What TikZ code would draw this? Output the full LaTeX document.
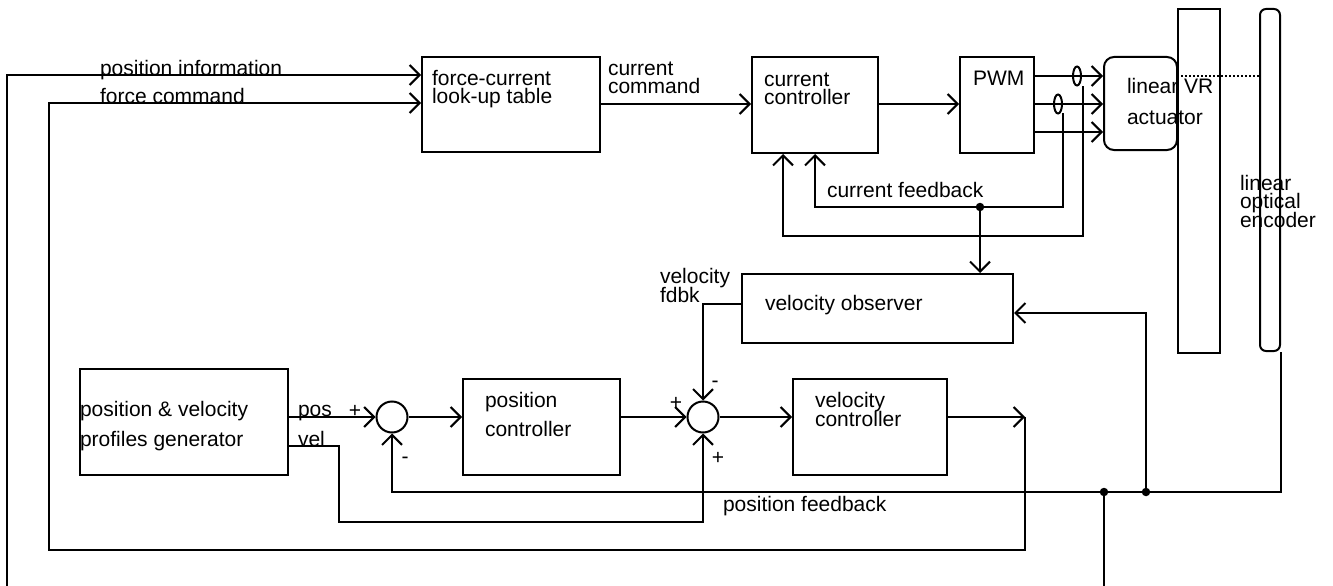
\documentclass[tikz,border=0pt]{standalone}
\usepackage{fontspec}
\setmainfont{Liberation Sans}
\usetikzlibrary{arrows.meta,shapes.geometric,calc}
% stacked lines with a fixed baseline distance; baseline = first line
\newcommand\stacklines[2]{\vtop{\baselineskip=#1\lineskiplimit=-30pt\relax #2}}
\begin{document}
\begin{tikzpicture}[x=1pt, y=-1pt,
  every path/.style={line width=2pt},
  blk/.style={draw, rectangle, anchor=north west, inner sep=0pt},
  sumj/.style={draw, circle, minimum size=31pt, inner sep=0pt},
  sensor/.style={draw, ellipse, minimum width=8pt, minimum height=19pt, inner sep=0pt},
  txt/.style={inner sep=0pt, anchor=base west, font=\fontsize{21}{21}\selectfont},
  sgn/.style={inner sep=0pt, anchor=base, font=\fontsize{21}{21}\selectfont},
  arr/.style={-{Straight Barb[length=10pt,width=20pt]}},
  dot/.style={circle, fill, inner sep=0pt, minimum size=8.5pt}]
\useasboundingbox (0,0) rectangle (1333,586);

% ---- blocks ----
\node[blk, minimum width=178pt, minimum height=95pt] (lut) at (421,56) {};
\node[blk, minimum width=126pt, minimum height=96pt] (cc) at (751,56) {};
\node[blk, minimum width=74pt, minimum height=96pt] (pwm) at (959,56) {};
\node[blk, rounded corners=10pt, minimum width=73pt, minimum height=93pt] (act) at (1103,56) {};
\node[blk, minimum width=42pt, minimum height=344pt] (stator) at (1177,8) {};
\node[blk, rounded corners=6pt, minimum width=20pt, minimum height=342pt] (enc) at (1259,8) {};
\node[blk, minimum width=271pt, minimum height=69pt] (vo) at (741,273) {};
\node[blk, minimum width=208pt, minimum height=106pt] (pg) at (79,368) {};
\node[blk, minimum width=157pt, minimum height=96pt] (pc) at (462,378) {};
\node[blk, minimum width=154pt, minimum height=96pt] (vc) at (792,378) {};
\node[sumj] (c1) at (392,417) {};
\node[sumj] (c2) at (703,417) {};
\node[sensor] (s1) at (1077,76) {};
\node[sensor] (s2) at (1058,104) {};

% ---- texts ----
\node[txt] (tpi) at (99,75) {position information};
\node[txt] (tfc) at (99,103) {force command};
\node[txt] (tlut) at (431,85) {\stacklines{18pt}{\hbox{force-current}\hbox{look-up table}}};
\node[txt] (tcc) at (607,75) {\stacklines{18pt}{\hbox{current}\hbox{command}}};
\node[txt] (tccb) at (763,86) {\stacklines{18pt}{\hbox{current}\hbox{controller}}};
\node[txt] (tpwm) at (972,85) {PWM};
\node[txt] (tact) at (1126,93) {\stacklines{31pt}{\hbox{linear VR}\hbox{actuator}}};
\node[txt] (tenc) at (1239,190) {\stacklines{18.5pt}{\hbox{linear}\hbox{optical}\hbox{encoder}}};
\node[txt] (tcf) at (826,197) {current feedback};
\node[txt] (tvf) at (659,283) {\stacklines{19pt}{\hbox{velocity}\hbox{fdbk}}};
\node[txt] (tvo) at (764,310) {velocity observer};
\node[txt] (tpg) at (79,416) {\stacklines{30pt}{\hbox{position \& velocity}\hbox{profiles generator}}};
\node[txt] (tpos) at (297,416) {pos};
\node[txt] (tvel) at (297,446) {vel};
\node[txt] (tpc) at (484,407) {\stacklines{29pt}{\hbox{position}\hbox{controller}}};
\node[txt] (tvc) at (814,407) {\stacklines{19pt}{\hbox{velocity}\hbox{controller}}};
\node[txt] (tpf) at (722,511) {position feedback};
\node[sgn] (p1) at (355,417) {+};
\node[sgn] (m1) at (405,463) {-};
\node[sgn] (p2) at (676,409) {+};
\node[sgn] (m2) at (715,387) {-};
\node[sgn] (p3) at (718,464) {+};

% ---- junction points and free ends ----
\node[dot] (dcf) at (980,207) {};
\node[dot] (dpf) at (1104,492) {};
\node[dot] (dvo) at (1146,492) {};
\coordinate (vcend) at (1025,417);
\coordinate (s1o) at (1083,86);
\coordinate (s2o) at (1063,113);
\coordinate (botA) at (7,586);
\coordinate (botB) at (1104,586);

% ---- upper signal path ----
\draw[arr] (botA) |- (lut.west |- tpi.base);
\draw[arr] (vcend) -- (1025,550) -| (49,103) -- (lut.west |- tfc.base);
\draw[arr] (lut.east |- 0,104) -- (cc.west |- 0,104);
\draw[arr] (cc.east |- 0,104) -- (pwm.west |- 0,104);
\draw[arr] (pwm.east |- s1) -- (act.west |- s1);
\draw[arr] (pwm.east |- s2) -- (act.west |- s2);
\draw[arr] (pwm.east |- 0,132) -- (act.west |- 0,132);
\draw[dotted, line width=1.5pt] (stator.west |- s1) -- (enc.west |- s1);

% ---- current feedback ----
\draw[arr] (s1o) -- (1083,236) -| ($(cc.south west)+(32,0)$);
\draw[arr] (s2o) -- (1063,207) -| ($(cc.south west)+(64,0)$);
\draw[arr] (dcf.center) -- (vo.north -| dcf);

% ---- lower loops ----
\draw[arr] (pg.east |- c1) -- (c1.west);
\draw[arr] (c1.east) -- (pc.west |- c1);
\draw[arr] (pc.east |- c2) -- (c2.west);
\draw[arr] (c2.east) -- (vc.west |- c2);
\draw[arr] (vc.east |- c2) -- (vcend);
\draw[arr] (pg.east |- tvel.base) -| (339,522) -| (c2.south);
\draw[arr] (vo.west |- 0,304) -| (c2.north);
\draw[arr] (enc.south east) |- (dvo.center) -- (dpf.center) -| (c1.south);
\draw[arr] (dvo.center) |- (vo.east |- 0,313);
\draw (dpf.center) -- (botB);
\end{tikzpicture}
\end{document}
